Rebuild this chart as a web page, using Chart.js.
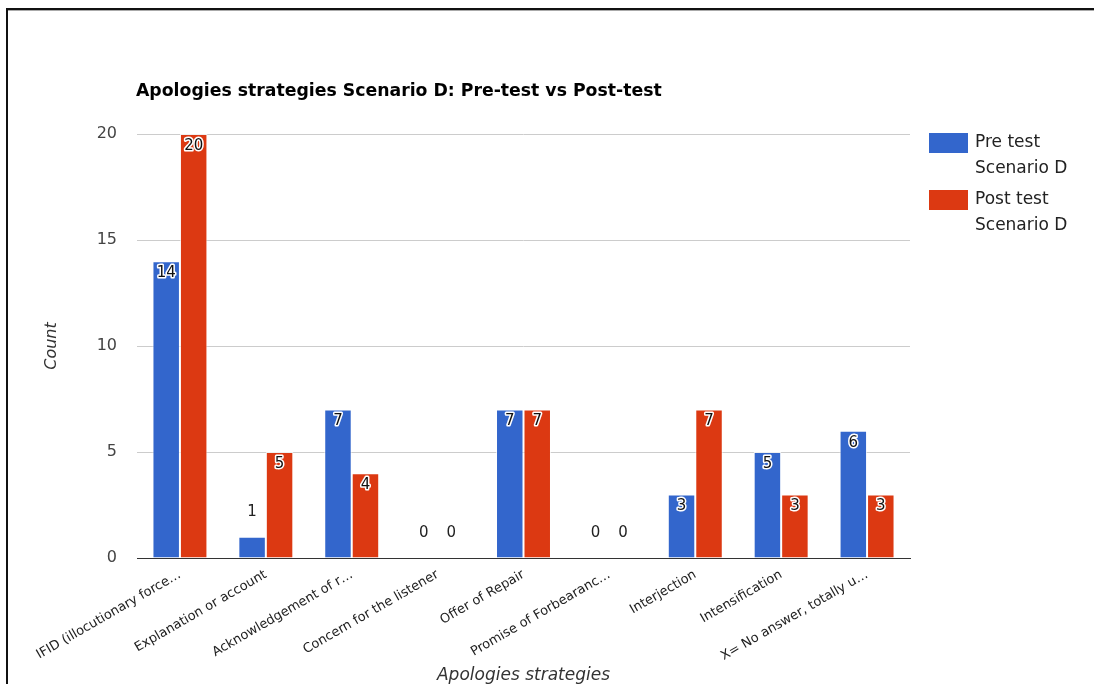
<!DOCTYPE html>
<html>
<head>
<meta charset="utf-8">
<script src="https://cdn.jsdelivr.net/npm/chart.js@4/dist/chart.umd.min.js"></script>
<style>
  html, body { margin: 0; padding: 0; background: #fff; }
  #wrap { position: relative; width: 1094px; height: 684px; overflow: hidden; }
  #frame { position: absolute; left: 6px; top: 8px; right: -10px; bottom: -10px;
           border-top: 2px solid #111; border-left: 2px solid #111; }
  #frame::after { content: ""; position: absolute; left: 0; right: 0; top: 0; height: 1px; background: #aaa; }
  canvas { position: absolute; left: 0; top: 0; }
</style>
</head>
<body>
<div id="wrap">
  <canvas id="c" width="1094" height="684"></canvas>
  <div id="frame"></div>
</div>
<script>
// Strategy categories (labels as shown, shortened ones keep their ellipsis)
const categories = [
  'IFID (illocutionary force…',
  'Explanation or account',
  'Acknowledgement of r…',
  'Concern for the listener',
  'Offer of Repair',
  'Promise of Forbearanc…',
  'Interjection',
  'Intensification',
  'X= No answer, totally u…'
];
const preTest  = [14, 1, 7, 0, 7, 0, 3, 5, 6];
const postTest = [20, 5, 4, 0, 7, 0, 7, 3, 3];
const seriesNames = ['Pre test Scenario D', 'Post test Scenario D'];
const legendLines = [['Pre test', 'Scenario D'], ['Post test', 'Scenario D']];
const yTicks = [0, 5, 10, 15, 20];
const chartTitle = 'Apologies strategies Scenario D: Pre-test vs Post-test';

const BLUE = '#3366cc';
const RED = '#dc3912';
const FONT = '"DejaVu Sans", "Liberation Sans", Arial, sans-serif';

// Value labels: inside the bar top with a white halo, or above short bars
const valueLabels = {
  id: 'valueLabels',
  afterDatasetsDraw(chart) {
    const ctx = chart.ctx;
    ctx.save();
    ctx.font = '15px ' + FONT;
    ctx.textAlign = 'center';
    ctx.textBaseline = 'middle';
    chart.data.datasets.forEach((ds, di) => {
      const meta = chart.getDatasetMeta(di);
      meta.data.forEach((bar, i) => {
        const v = ds.data[i];
        const h = bar.base - bar.y;
        const txt = String(v);
        if (h >= 30) {
          const y = bar.y + 12;
          ctx.lineJoin = 'round';
          ctx.lineWidth = 3;
          ctx.strokeStyle = '#fff';
          ctx.strokeText(txt, bar.x, y);
          ctx.fillStyle = '#111';
          ctx.fillText(txt, bar.x, y);
        } else {
          ctx.fillStyle = '#222';
          ctx.fillText(txt, bar.x, bar.y - 25);
        }
      });
    });
    ctx.restore();
  }
};

// Title, axis titles and the two-line legend
const decorations = {
  id: 'decorations',
  afterDraw(chart) {
    const ctx = chart.ctx;
    const a = chart.chartArea;
    ctx.save();
    ctx.fillStyle = '#000';
    ctx.font = 'bold 16px ' + FONT;
    const tw = ctx.measureText(chartTitle).width;
    const tSize = Math.min(19, 16 * 526 / tw);
    ctx.font = 'bold ' + tSize.toFixed(2) + 'px ' + FONT;
    ctx.textAlign = 'left';
    ctx.textBaseline = 'middle';
    ctx.fillText(chartTitle, 136, 92);

    ctx.fillStyle = '#333';
    ctx.font = 'italic 17px ' + FONT;
    ctx.textAlign = 'center';
    ctx.fillText('Apologies strategies', (a.left + a.right) / 2, 676);

    ctx.font = 'italic 16px ' + FONT;
    ctx.save();
    ctx.translate(52, (a.top + a.bottom) / 2);
    ctx.rotate(-Math.PI / 2);
    ctx.fillText('Count', 0, 0);
    ctx.restore();

    const colors = [BLUE, RED];
    ctx.font = '17px ' + FONT;
    ctx.textAlign = 'left';
    legendLines.forEach((lines, k) => {
      const top = 133 + k * 57;
      ctx.fillStyle = colors[k];
      ctx.fillRect(929, top, 39, 20);
      ctx.fillStyle = '#222';
      ctx.fillText(lines[0], 975, top + 10);
      ctx.fillText(lines[1], 975, top + 36);
    });
    ctx.restore();
  }
};

new Chart(document.getElementById('c'), {
  type: 'bar',
  data: {
    labels: categories,
    datasets: [
      { label: seriesNames[0], data: preTest, backgroundColor: BLUE,
        borderColor: 'rgba(255,255,255,0.7)', borderWidth: 1, borderSkipped: 'bottom' },
      { label: seriesNames[1], data: postTest, backgroundColor: RED,
        borderColor: 'rgba(255,255,255,0.7)', borderWidth: 1, borderSkipped: 'bottom' }
    ]
  },
  options: {
    responsive: false,
    animation: false,
    events: [],
    layout: { padding: { left: 0, right: 184, top: 134, bottom: 0 } },
    datasets: { bar: { categoryPercentage: 0.64, barPercentage: 1.0 } },
    plugins: {
      legend: { display: false },
      title: { display: false },
      tooltip: { enabled: false }
    },
    scales: {
      x: {
        grid: { display: false },
        border: { display: true, color: '#333', width: 1 },
        ticks: {
          color: '#222',
          font: { family: FONT, size: 13 },
          minRotation: 30,
          maxRotation: 30,
          autoSkip: false,
          padding: 1
        },
        afterFit(scale) { scale.height = 126; }
      },
      y: {
        min: 0,
        max: 20,
        afterBuildTicks(scale) { scale.ticks = yTicks.map(v => ({ value: v })); },
        grid: { color: '#cccccc', lineWidth: 1, drawTicks: false },
        border: { display: false },
        ticks: {
          color: '#444',
          font: { family: FONT, size: 16 },
          padding: 20
        },
        afterFit(scale) { scale.width = 137; }
      }
    }
  },
  plugins: [valueLabels, decorations]
});
</script>
</body>
</html>
